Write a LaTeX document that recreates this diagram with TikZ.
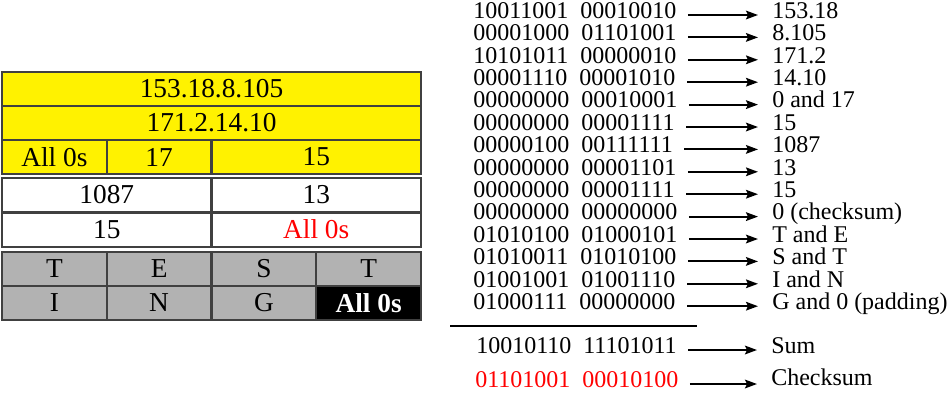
\documentclass[tikz,border=0pt]{standalone}
\usepackage{fontspec}
\setmainfont{Liberation Serif}
\usetikzlibrary{arrows.meta}

\tikzset{
  cell/.style={draw=black!75, line width=1.5pt, inner sep=0pt, minimum height=25.5pt,
    font=\fontsize{20.5}{24}\selectfont},
  full/.style={cell, minimum width=314.25pt},
  half/.style={cell, minimum width=157.1pt},
  quarter/.style={cell, minimum width=78.55pt},
  pseudo/.style={fill=yellow},
  header/.style={fill=white},
  payload/.style={fill=black!30},
  word/.style={anchor=west, inner sep=0pt, text height=1.45ex, text depth=0.35ex,
    font=\fontsize{18}{20}\selectfont},
  toarrow/.style={-{Stealth[length=9pt, width=6.5pt, inset=1.5pt]}, line width=1.4pt,
    shorten <=8.5pt, shorten >=10.5pt},
}
\newcommand{\bits}[2]{#1\hspace{0.5em}#2}

\begin{document}
\begin{tikzpicture}[x=0.75pt, y=-0.75pt]
	\useasboundingbox (0,0) rectangle (947,401);

	% packet: pseudoheader, header, data
	\node[full, pseudo] (srcaddr) at (211.5,89) {153.18.8.105};
	\node[full, pseudo] (dstaddr) at (211.5,123) {171.2.14.10};
	\node[quarter, pseudo] (zeros) at (54.4,157) {All 0s};
	\node[quarter, pseudo] (proto) at (159.1,157) {17};
	\node[half, pseudo] (udplen) at (316.25,157) {15};

	\node[half, header] (srcport) at (106.75,194.5) {1087};
	\node[half, header] (dstport) at (316.25,194.5) {13};
	\node[half, header] (totlen) at (106.75,229.5) {15};
	\node[half, header] (chkfield) at (316.25,229.5) {\textcolor{red}{All 0s}};

	\node[quarter, payload] (dT) at (54.4,269) {T};
	\node[quarter, payload] (dE) at (159.1,269) {E};
	\node[quarter, payload] (dS) at (263.9,269) {S};
	\node[quarter, payload] (dT2) at (368.6,269) {T};
	\node[quarter, payload] (dI) at (54.4,303) {I};
	\node[quarter, payload] (dN) at (159.1,303) {N};
	\node[quarter, payload] (dG) at (263.9,303) {G};
	\node[quarter, fill=black, text=white, font=\fontsize{20.5}{24}\selectfont\bfseries] (pad) at (368.6,303) {All 0s};

	% 16-bit words
	\node[word] (w1) at (473,15) {\bits{10011001}{00010010}};
	\node[word] (l1) at (772,15) {153.18};
	\node[word] (w2) at (473,37.4) {\bits{00001000}{01101001}};
	\node[word] (l2) at (772,37.4) {8.105};
	\node[word] (w3) at (473,59.8) {\bits{10101011}{00000010}};
	\node[word] (l3) at (772,59.8) {171.2};
	\node[word] (w4) at (473,82.2) {\bits{00001110}{00001010}};
	\node[word] (l4) at (772,82.2) {14.10};
	\node[word] (w5) at (473,104.6) {\bits{00000000}{00010001}};
	\node[word] (l5) at (772,104.6) {0 and 17};
	\node[word] (w6) at (473,127) {\bits{00000000}{00001111}};
	\node[word] (l6) at (772,127) {15};
	\node[word] (w7) at (473,149.4) {\bits{00000100}{00111111}};
	\node[word] (l7) at (772,149.4) {1087};
	\node[word] (w8) at (473,171.8) {\bits{00000000}{00001101}};
	\node[word] (l8) at (772,171.8) {13};
	\node[word] (w9) at (473,194.2) {\bits{00000000}{00001111}};
	\node[word] (l9) at (772,194.2) {15};
	\node[word] (w10) at (473,216.6) {\bits{00000000}{00000000}};
	\node[word] (l10) at (772,216.6) {0 (checksum)};
	\node[word] (w11) at (473,239) {\bits{01010100}{01000101}};
	\node[word] (l11) at (772,239) {T and E};
	\node[word] (w12) at (473,261.4) {\bits{01010011}{01010100}};
	\node[word] (l12) at (772,261.4) {S and T};
	\node[word] (w13) at (473,283.8) {\bits{01001001}{01001110}};
	\node[word] (l13) at (772,283.8) {I and N};
	\node[word] (w14) at (473,306.2) {\bits{01000111}{00000000}};
	\node[word] (l14) at (772,306.2) {G and 0 (padding)};

	\coordinate (ruleL) at (450,326);
	\coordinate (ruleR) at (697,326);
	\draw[line width=1.5pt] (ruleL) -- (ruleR);

	\node[word] (wsum) at (476,350) {\bits{10010110}{11101011}};
	\node[word] (lsum) at (771,350) {Sum};
	\node[word, text=red] (wchk) at (475,384) {\bits{01101001}{00010100}};
	\node[word] (lchk) at (771,382) {Checksum};

	\path (w1) edge[toarrow] (l1);
	\path (w2) edge[toarrow] (l2);
	\path (w3) edge[toarrow] (l3);
	\path (w4) edge[toarrow] (l4);
	\path (w5) edge[toarrow] (l5);
	\path (w6) edge[toarrow] (l6);
	\path (w7) edge[toarrow] (l7);
	\path (w8) edge[toarrow] (l8);
	\path (w9) edge[toarrow] (l9);
	\path (w10) edge[toarrow] (l10);
	\path (w11) edge[toarrow] (l11);
	\path (w12) edge[toarrow] (l12);
	\path (w13) edge[toarrow] (l13);
	\path (w14) edge[toarrow] (l14);
	\path (wsum) edge[toarrow] (lsum);
	\path (wchk.east) edge[toarrow] (wchk.east -| lchk.west);
\end{tikzpicture}
\end{document}
